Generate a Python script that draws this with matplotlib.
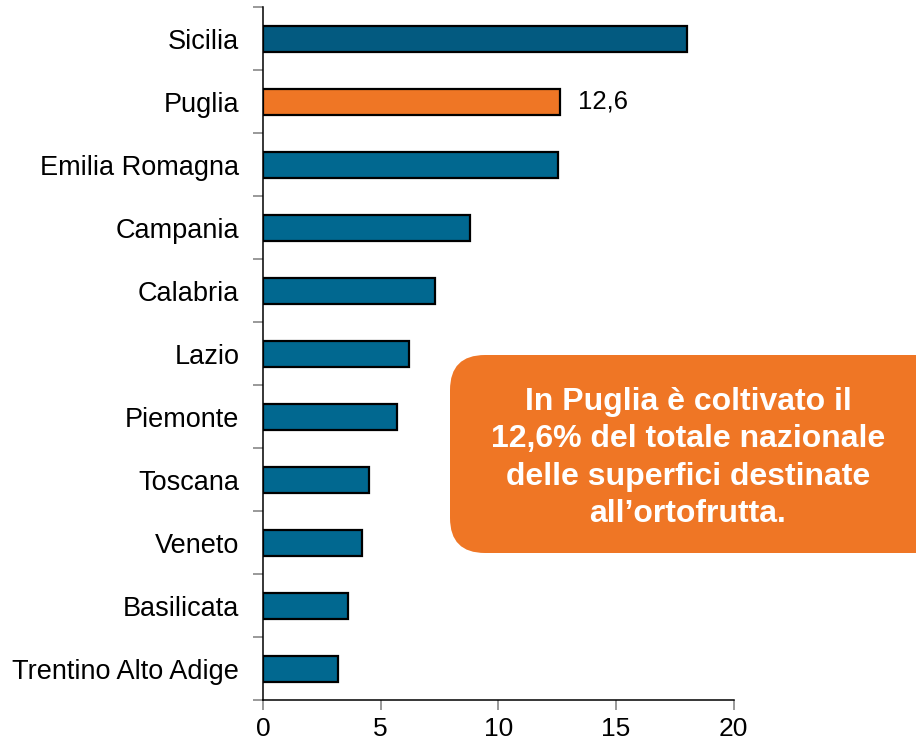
import numpy as np
import matplotlib
matplotlib.use("Agg")
import matplotlib.pyplot as plt
from matplotlib.patches import FancyBboxPatch
from matplotlib.transforms import IdentityTransform

regioni = ["Sicilia", "Puglia", "Emilia Romagna", "Campania", "Calabria", "Lazio",
           "Piemonte", "Toscana", "Veneto", "Basilicata", "Trentino Alto Adige"]
valori = [18.0, 12.6, 12.55, 8.8, 7.3, 6.2, 5.7, 4.5, 4.2, 3.6, 3.2]
colori = ["#035A80", "#EF7625", "#016890", "#016890", "#016890", "#016890",
          "#016890", "#016890", "#016890", "#016890", "#016890"]
etichetta_puglia = "12,6"
messaggio = "In Puglia è coltivato il\n12,6% del totale nazionale\ndelle superfici destinate\nall\u2019ortofrutta."

plt.rcParams['font.family'] = ['Liberation Sans', 'DejaVu Sans']

fig = plt.figure(figsize=(9.16, 7.44), dpi=100)
ax = fig.add_axes([0.287, 0.0585, 0.514, 0.9315])

y = np.arange(len(regioni))
ax.barh(y, valori, height=0.42, color=colori, edgecolor="black", linewidth=1.6, zorder=3)

ax.set_xlim(0, 20)
ax.set_ylim(len(regioni) - 0.5, -0.5)
ax.set_xticks([0, 5, 10, 15, 20])
ax.tick_params(axis="x", direction="out", length=7, width=1.2, color="#888888",
               labelsize=19, pad=5)

# tick tra le categorie, etichette al centro
ax.set_yticks(np.arange(len(regioni) + 1) - 0.5)
ax.set_yticklabels([])
ax.set_yticks(y, minor=True)
ax.set_yticklabels(regioni, minor=True)
ax.tick_params(axis="y", which="major", direction="out", length=7, width=1.2, color="#888888")
ax.tick_params(axis="y", which="minor", length=0, labelsize=19.5, pad=17)

for s in ["top", "right"]:
    ax.spines[s].set_visible(False)
ax.spines["left"].set_linewidth(1.1)
ax.spines["bottom"].set_linewidth(1.1)

ax.annotate(etichetta_puglia, xy=(valori[1], y[1]), xytext=(13, 0), textcoords="offset points",
            va="center", ha="left", fontsize=18.5)

box = FancyBboxPatch((450 + 35, 191 + 35), 500 - 70, 198 - 70,
                     boxstyle="round,pad=35,rounding_size=35",
                     transform=IdentityTransform(), facecolor="#EF7625",
                     edgecolor="none", clip_on=False, zorder=5)
fig.patches.append(box)
fig.text(688 / 916, 286 / 744, messaggio, ha="center", va="center", color="white",
         fontsize=23, fontweight="bold", linespacing=1.33, zorder=6)

fig.savefig("out.png", dpi=100)
